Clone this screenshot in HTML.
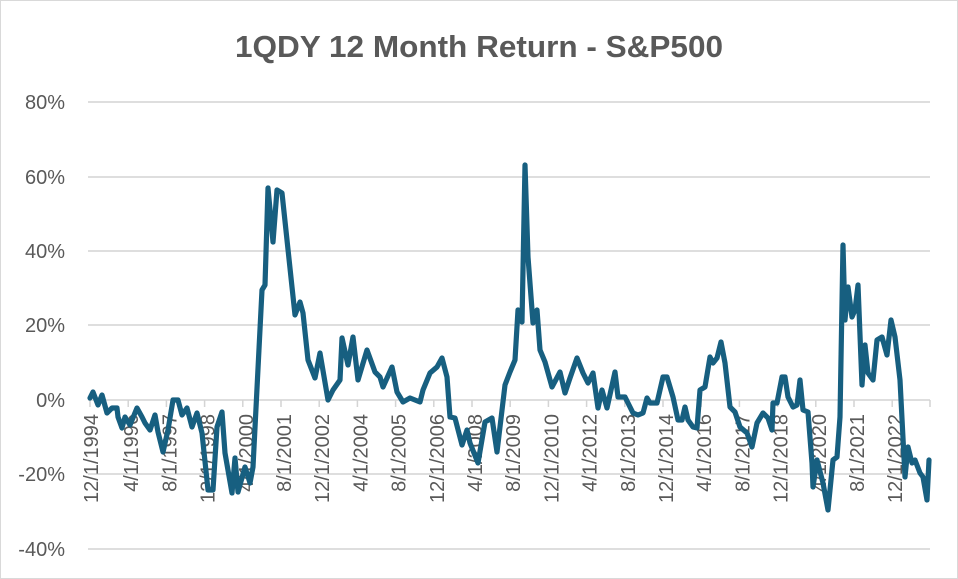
<!DOCTYPE html>
<html><head><style>
body{margin:0;background:#fff}
svg{display:block;font-family:"Liberation Sans",sans-serif}
</style></head><body>
<svg width="958" height="579" viewBox="0 0 958 579">
<rect x="0.5" y="0.5" width="957" height="578" fill="#fff" stroke="#d9d9d9"/>
<text x="479" y="57" text-anchor="middle" font-size="31" font-weight="bold" fill="#595959" textLength="488" lengthAdjust="spacingAndGlyphs">1QDY 12 Month Return - S&amp;P500</text>
<g stroke="#d4d4d4" stroke-width="1.5">
<line x1="88" y1="102" x2="930" y2="102"/>
<line x1="88" y1="177" x2="930" y2="177"/>
<line x1="88" y1="251" x2="930" y2="251"/>
<line x1="88" y1="325" x2="930" y2="325"/>
<line x1="88" y1="474" x2="930" y2="474"/>
<line x1="88" y1="549" x2="930" y2="549"/>
<line x1="88" y1="400" x2="930" y2="400"/>
<path fill="none" d="M90 400v7M128.2 400v7M166.4 400v7M204.6 400v7M242.8 400v7M281 400v7M319.2 400v7M357.4 400v7M395.6 400v7M433.8 400v7M472 400v7M510.2 400v7M548.4 400v7M586.6 400v7M624.8 400v7M663 400v7M701.2 400v7M739.4 400v7M777.6 400v7M815.8 400v7M854 400v7M892.2 400v7M930 400v7"/>
</g>
<g font-size="20" fill="#595959" text-anchor="end">
<text x="65" y="109">80%</text>
<text x="65" y="184">60%</text>
<text x="65" y="258">40%</text>
<text x="65" y="332">20%</text>
<text x="65" y="407">0%</text>
<text x="65" y="481">-20%</text>
<text x="65" y="556">-40%</text>
</g>
<g font-size="20" fill="#595959" text-anchor="end">
<text transform="translate(98,414) rotate(-90)">12/1/1994</text>
<text transform="translate(138.2,414) rotate(-90)">4/1/1996</text>
<text transform="translate(176.4,414) rotate(-90)">8/1/1997</text>
<text transform="translate(214.6,414) rotate(-90)">12/1/1998</text>
<text transform="translate(252.8,414) rotate(-90)">4/1/2000</text>
<text transform="translate(291,414) rotate(-90)">8/1/2001</text>
<text transform="translate(329.2,414) rotate(-90)">12/1/2002</text>
<text transform="translate(367.4,414) rotate(-90)">4/1/2004</text>
<text transform="translate(405.6,414) rotate(-90)">8/1/2005</text>
<text transform="translate(443.8,414) rotate(-90)">12/1/2006</text>
<text transform="translate(482,414) rotate(-90)">4/1/2008</text>
<text transform="translate(520.2,414) rotate(-90)">8/1/2009</text>
<text transform="translate(558.4,414) rotate(-90)">12/1/2010</text>
<text transform="translate(596.6,414) rotate(-90)">4/1/2012</text>
<text transform="translate(634.8,414) rotate(-90)">8/1/2013</text>
<text transform="translate(673,414) rotate(-90)">12/1/2014</text>
<text transform="translate(711.2,414) rotate(-90)">4/1/2016</text>
<text transform="translate(749.4,414) rotate(-90)">8/1/2017</text>
<text transform="translate(787.6,414) rotate(-90)">12/1/2018</text>
<text transform="translate(825.8,414) rotate(-90)">4/1/2020</text>
<text transform="translate(864,414) rotate(-90)">8/1/2021</text>
<text transform="translate(902.2,414) rotate(-90)">12/1/2022</text>
</g>
<polyline fill="none" stroke="#175f80" stroke-width="5.2" stroke-linejoin="round" stroke-linecap="round" points="
90,398 93,392 98,405 102,395 107,413 112,408 117,408 118,417 122,428 125,417 130,425 137,408 142,417 145,423 150,430 155,415 158,432 163,452 168,430 173,400 178,400 182,415 187,408 192,427 197,413 202,433 208,490 213,490 217,427 222,412 225,453 232,493 235,458 238,492 245,467 250,483 253,467 262,290 265,285 268,188 273,242 277,190 282,193 292,287 295,315 300,302 303,313 308,360 315,378 320,353 328,400 333,390 340,380 342,338 348,365 353,337 358,380 367,350 375,372 380,377 383,387 392,367 397,392 403,402 410,398 420,402 423,390 430,373 437,367 442,358 447,377 450,417 455,418 462,445 467,430 470,443 478,463 485,422 492,418 497,452 505,385 510,372 515,360 518,310 522,322 525,165 528,257 533,323 537,310 540,350 545,362 552,387 560,372 565,393 570,378 577,358 583,373 588,383 593,373 598,408 602,390 607,408 615,372 618,397 625,397 633,413 638,415 643,413 647,398 650,403 657,403 663,377 667,377 673,397 678,420 682,420 685,407 688,420 693,427 697,428 700,390 705,387 710,357 713,363 717,358 721,342 725,363 730,407 735,412 740,427 747,433 752,447 757,423 763,413 768,418 772,430 773,403 777,403 782,377 785,377 788,397 793,407 797,405 800,380 803,410 808,412 812,463 813,487 817,460 823,483 828,510 833,460 837,457 840,417 843,245 845,320 848,287 852,317 855,310 858,285 862,385 865,345 868,373 873,380 877,340 882,337 887,355 891,320 895,337 900,380 905,477 908,447 912,463 915,460 920,473 923,477 927,500 929,460"/>
</svg>
</body></html>
